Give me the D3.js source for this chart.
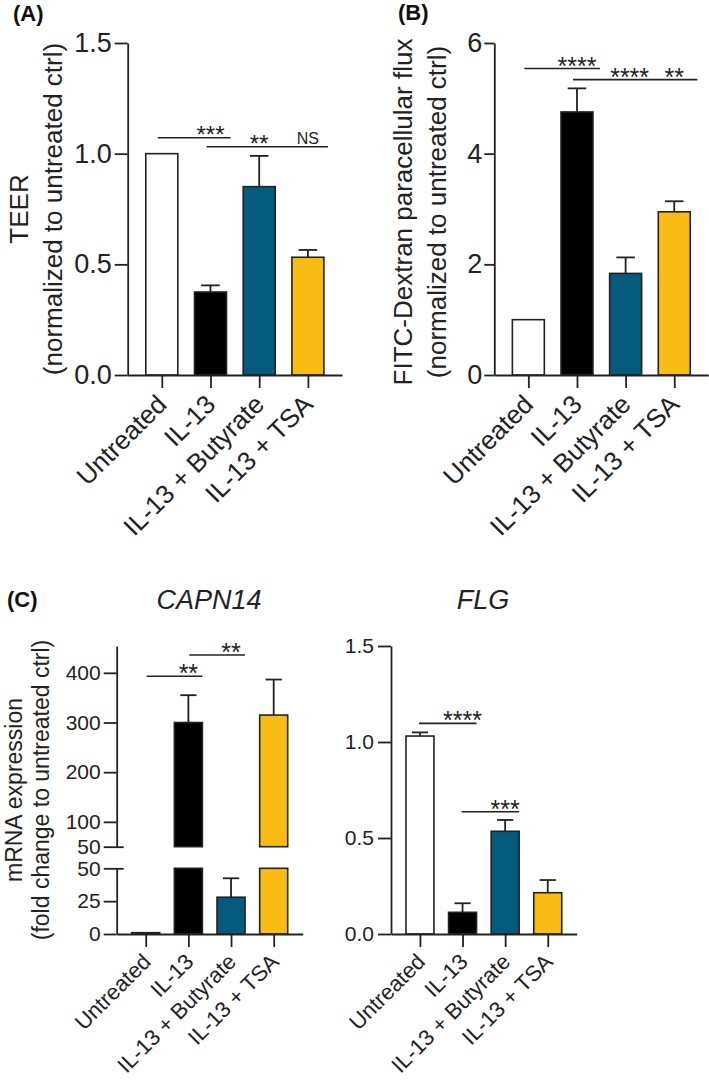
<!DOCTYPE html>
<html>
<head>
<meta charset="utf-8">
<script src="https://cdn.jsdelivr.net/npm/d3@7"></script>
<style>
  html, body { margin: 0; padding: 0; background: #fff; }
  svg { display: block; font-family: "Liberation Sans", Arial, sans-serif; }
</style>
</head>
<body>
<svg id="chart" width="709" height="1081"></svg>
<script>
// ---------------- DATA ----------------
const categories = ["Untreated", "IL-13", "IL-13 + Butyrate", "IL-13 + TSA"];
const barColors = ["#ffffff", "#000000", "#065a7d", "#f9bc15"];

const teerMean = [1.0, 0.375, 0.851, 0.532];
const teerErr  = [0.0, 0.030, 0.139, 0.033];
const teerTicks = [0, 0.5, 1.0, 1.5];

const fluxMean = [1.0, 4.754, 1.836, 2.949];
const fluxErr  = [0.0, 0.426, 0.289, 0.191];
const fluxTicks = [0, 2, 4, 6];

const capnMean = [1, 300, 28, 315];
const capnErr  = [0, 55, 14.4, 71.5];
const capnUpperTicks = [50, 100, 200, 300, 400];
const capnLowerTicks = [0, 25, 50];
const capnBreak = 50;

const flgMean = [1.031, 0.113, 0.535, 0.215];
const flgErr  = [0.019, 0.047, 0.059, 0.066];
const flgTicks = [0, 0.5, 1.0, 1.5];

const teerSig = [
  { from: "Untreated", to: "IL-13", level: 1.072, label: "***", at: "IL-13" },
  { from: "IL-13", to: "IL-13 + TSA", level: 1.031, label: "**", at: "IL-13 + Butyrate" },
  { from: "IL-13", to: "IL-13 + TSA", level: 1.031, label: "NS", at: "IL-13 + TSA", noLine: true }
];
const fluxSig = [
  { from: "Untreated", to: "IL-13", level: 5.538, label: "****", at: "IL-13" },
  { from: "IL-13", to: "IL-13 + TSA", level: 5.339, label: "****", at: "IL-13 + Butyrate", nudge: true },
  { from: "IL-13", to: "IL-13 + TSA", level: 5.339, label: "**", at: "IL-13 + TSA", noLine: true }
];
const capnSig = [
  { from: "Untreated", to: "IL-13", level: 393, label: "**", at: "IL-13" },
  { from: "IL-13", to: "IL-13 + Butyrate", level: 436, label: "**", at: "IL-13 + Butyrate" }
];
const flgSig = [
  { from: "Untreated", to: "IL-13", level: 1.097, label: "****", at: "IL-13" },
  { from: "IL-13", to: "IL-13 + Butyrate", level: 0.637, label: "***", at: "IL-13 + Butyrate" }
];

// ---------------- DRAW ----------------
const svg = d3.select("#chart");
const INK = "#222";

function styleAxis(g, fs) {
  g.selectAll("path.domain").attr("stroke", INK).attr("stroke-width", 1.8);
  g.selectAll(".tick line").attr("stroke", INK).attr("stroke-width", 1.8);
  g.selectAll(".tick text").attr("fill", INK).style("font-size", fs + "px")
    .style("font-family", "'Liberation Sans', Arial, sans-serif");
}

function xAxis(x, y0, fs, dx, dy) {
  const g = svg.append("g").attr("transform", `translate(0,${y0})`)
    .call(d3.axisBottom(x).tickSize(13).tickSizeOuter(0));
  styleAxis(g, fs);
  g.selectAll(".tick text")
    .attr("x", 0).attr("y", 0).attr("dy", 0)
    .attr("text-anchor", "end")
    .attr("transform", `translate(${dx},${dy}) rotate(-45)`);
  return g;
}

function yAxis(y, x0, ticks, fmt, fs, tickLen, pad) {
  const g = svg.append("g").attr("transform", `translate(${x0},0)`)
    .call(d3.axisLeft(y).tickValues(ticks).tickFormat(fmt).tickSize(tickLen).tickPadding(pad).tickSizeOuter(0));
  styleAxis(g, fs);
  return g;
}

function bars(x, y, means, bw, yBase) {
  categories.forEach((c, i) => {
    const cx = x(c);
    const v = means[i];
    svg.append("rect")
      .attr("x", cx - bw / 2).attr("width", bw)
      .attr("y", y(v)).attr("height", y(yBase) - y(v))
      .attr("fill", barColors[i]).attr("stroke", INK).attr("stroke-width", 1.6);
  });
}

function errorBars(x, y, means, errs, bw, filter) {
  const capW = bw * 0.58;
  categories.forEach((c, i) => {
    if (!errs[i]) return;
    if (filter && !filter(means[i])) return;
    const cx = x(c);
    const yt = y(means[i] + errs[i]);
    svg.append("line").attr("x1", cx).attr("x2", cx)
      .attr("y1", y(means[i])).attr("y2", yt)
      .attr("stroke", INK).attr("stroke-width", 1.8);
    svg.append("line").attr("x1", cx - capW / 2).attr("x2", cx + capW / 2)
      .attr("y1", yt).attr("y2", yt)
      .attr("stroke", INK).attr("stroke-width", 1.8);
  });
}

function sigs(x, y, list, leftOff, rightOff, starFs) {
  list.forEach(s => {
    const ly = y(s.level);
    if (!s.noLine) {
      svg.append("line")
        .attr("x1", x(s.from) + leftOff).attr("x2", x(s.to) + rightOff)
        .attr("y1", ly).attr("y2", ly)
        .attr("stroke", INK).attr("stroke-width", 1.6);
    }
    const isNS = s.label === "NS";
    svg.append("text")
      .attr("x", x(s.at) + (s.nudge ? 4 : 0)).attr("y", isNS ? ly - 3 : ly + starFs * 0.40 - 4)
      .attr("text-anchor", "middle")
      .attr("fill", INK)
      .style("font-size", (isNS ? 16 : starFs) + "px")
      .text(s.label);
  });
}

function yLabel(lines, cx, cy, fs, gap) {
  const t = svg.append("text")
    .attr("transform", `translate(${cx},${cy}) rotate(-90)`)
    .attr("text-anchor", "middle").attr("fill", INK)
    .style("font-size", fs + "px");
  lines.forEach((ln, i) => {
    t.append("tspan").attr("x", 0).attr("y", i * gap).text(ln);
  });
}

function panelLetter(txt, x, y) {
  svg.append("text").attr("x", x).attr("y", y)
    .attr("fill", "#111").style("font-size", "22px").style("font-weight", "bold")
    .text(txt);
}

// ----- Panel A -----
{
  const x = d3.scalePoint().domain(categories).range([127.7, 342]).padding(0.7);
  const y = d3.scaleLinear().domain([0, 1.5]).range([375, 43]);
  const bw = x.step() * 0.657;
  bars(x, y, teerMean, bw, 0);
  errorBars(x, y, teerMean, teerErr, bw);
  yAxis(y, 127.7, teerTicks, d3.format(".1f"), 27, 13, 3);
  xAxis(x, 375, 26, 6, 31);
  sigs(x, y, teerSig, -4, 20, 24);
  yLabel(["TEER", "(normalized to untreated ctrl)"], 28, 209, 26, 34);
  panelLetter("(A)", 13, 21);
}

// ----- Panel B -----
{
  const x = d3.scalePoint().domain(categories).range([494.3, 708.3]).padding(0.7);
  const y = d3.scaleLinear().domain([0, 6]).range([375, 43]);
  const bw = x.step() * 0.657;
  bars(x, y, fluxMean, bw, 0);
  errorBars(x, y, fluxMean, fluxErr, bw);
  yAxis(y, 494.3, fluxTicks, d3.format("d"), 27, 10, 2);
  xAxis(x, 375, 26, 6, 31);
  sigs(x, y, fluxSig, -4, 23, 25);
  yLabel(["FITC-Dextran paracellular flux", "(normalized to untreated ctrl)"], 412, 212, 26, 34);
  panelLetter("(B)", 398, 20);
}

// ----- Panel C left (CAPN14, broken axis) -----
{
  const x = d3.scalePoint().domain(categories).range([116.7, 302.7]).padding(0.68);
  const yU = d3.scaleLinear().domain([capnBreak, 454]).range([846.7, 646]);
  const yL = d3.scaleLinear().domain([0, capnBreak]).range([934, 868.3]);
  const bw = x.step() * 0.657;
  categories.forEach((c, i) => {
    const v = capnMean[i];
    if (v > capnBreak) {
      svg.append("rect").attr("x", x(c) - bw / 2).attr("width", bw)
        .attr("y", yU(v)).attr("height", yU(capnBreak) - yU(v))
        .attr("fill", barColors[i]).attr("stroke", INK).attr("stroke-width", 1.6);
    }
    const vl = Math.min(v, capnBreak);
    svg.append("rect").attr("x", x(c) - bw / 2).attr("width", bw)
      .attr("y", yL(vl)).attr("height", yL(0) - yL(vl))
      .attr("fill", barColors[i]).attr("stroke", INK).attr("stroke-width", 1.6);
  });
  errorBars(x, yU, capnMean, capnErr, bw, v => v > capnBreak);
  errorBars(x, yL, capnMean, capnErr, bw, v => v <= capnBreak);
  const gU = yAxis(yU, 116.7, capnUpperTicks, d3.format("d"), 21, 13, 3);
  const gL = yAxis(yL, 116.7, capnLowerTicks, d3.format("d"), 21, 13, 3);
  gU.selectAll(".tick").filter(d => d === capnBreak).select("line").attr("x1", 7);
  gL.selectAll(".tick").filter(d => d === capnBreak).select("line").attr("x1", 7);
  xAxis(x, 934, 22, 6, 29);
  sigs(x, yU, capnSig, 1, 14, 25);
  yLabel(["mRNA expression", "(fold change to untreated ctrl)"], 22, 790, 23, 27);
  svg.append("text").attr("x", 209).attr("y", 609).attr("text-anchor", "middle")
    .attr("fill", INK).style("font-size", "27px").style("font-style", "italic").text("CAPN14");
  panelLetter("(C)", 7, 607);
}

// ----- Panel C right (FLG) -----
{
  const x = d3.scalePoint().domain(categories).range([391, 576.7]).padding(0.68);
  const y = d3.scaleLinear().domain([0, 1.5]).range([934, 646]);
  const bw = x.step() * 0.657;
  bars(x, y, flgMean, bw, 0);
  errorBars(x, y, flgMean, flgErr, bw);
  yAxis(y, 391, flgTicks, d3.format(".1f"), 21, 13, 4);
  xAxis(x, 934, 22, 6, 29);
  sigs(x, y, flgSig, -1, 14, 25);
  svg.append("text").attr("x", 483).attr("y", 609).attr("text-anchor", "middle")
    .attr("fill", INK).style("font-size", "27px").style("font-style", "italic").text("FLG");
}
</script>
</body>
</html>
